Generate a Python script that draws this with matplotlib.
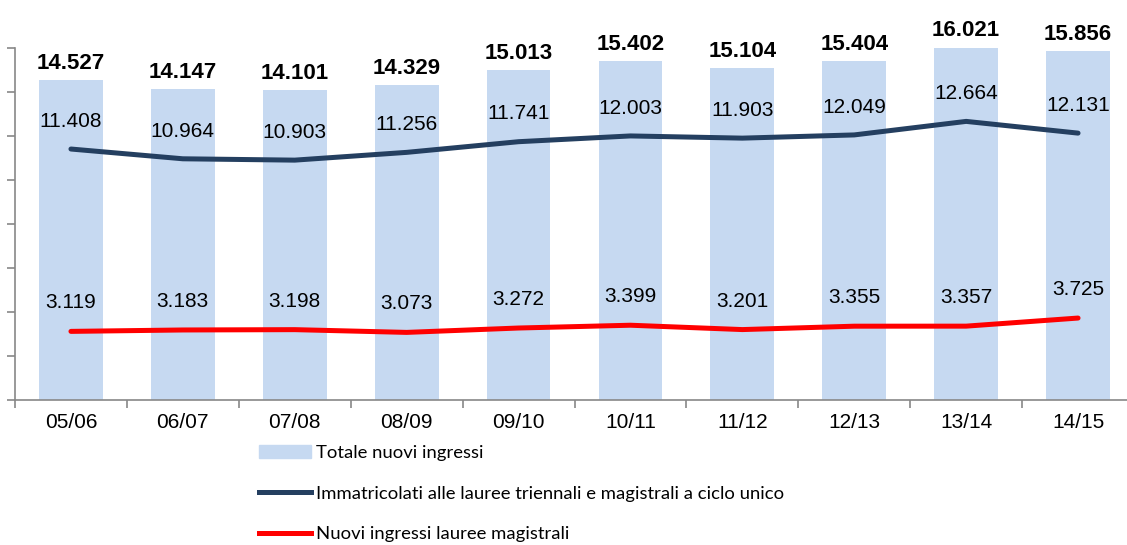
import matplotlib.pyplot as plt
import matplotlib.patches as mpatches
import matplotlib.lines as mlines
from matplotlib import font_manager
import numpy as np

years = ['05/06', '06/07', '07/08', '08/09', '09/10', '10/11', '11/12', '12/13', '13/14', '14/15']
totale = [14527, 14147, 14101, 14329, 15013, 15402, 15104, 15404, 16021, 15856]
immatricolati = [11408, 10964, 10903, 11256, 11741, 12003, 11903, 12049, 12664, 12131]
magistrali = [3119, 3183, 3198, 3073, 3272, 3399, 3201, 3355, 3357, 3725]

bar_col = '#C6D9F1'
dark_col = '#243F60'
red_col = '#FF0000'

names = set(f.name for f in font_manager.fontManager.ttflist)
main_font = 'Liberation Sans' if 'Liberation Sans' in names else 'DejaVu Sans'
legend_font = 'Lato' if 'Lato' in names else main_font
plt.rcParams['font.family'] = [main_font, 'DejaVu Sans']


def fmt(v):
    return '{:,}'.format(v).replace(',', '.')


fig = plt.figure(figsize=(11.27, 5.45), dpi=100)
ax = fig.add_axes([15 / 1127, 145 / 545, 1119 / 1127, 352 / 545])

x = np.arange(len(years))
ax.bar(x, totale, width=0.57, color=bar_col, clip_on=False, zorder=1)
ax.plot(x, immatricolati, color=dark_col, lw=3.6, solid_capstyle='round', zorder=3)
ax.plot(x, magistrali, color=red_col, lw=3.6, solid_capstyle='round', zorder=3)

for i in range(len(years)):
    ax.annotate(fmt(totale[i]), (x[i], totale[i]), xytext=(0, 12), textcoords='offset points',
                ha='center', va='center', fontsize=16, fontweight='bold', annotation_clip=False)
    ax.annotate(fmt(immatricolati[i]), (x[i], immatricolati[i]), xytext=(0, 20), textcoords='offset points',
                ha='center', va='center', fontsize=15)
    ax.annotate(fmt(magistrali[i]), (x[i], magistrali[i]), xytext=(0, 20.5), textcoords='offset points',
                ha='center', va='center', fontsize=15)

ax.set_xlim(-0.5, len(years) - 0.5)
ax.set_ylim(0, 16000)
ax.set_yticks(np.arange(0, 16001, 2000))
ax.set_yticklabels([])
ax.set_xticks(np.arange(-0.5, len(years), 1.0))
ax.set_xticklabels([])
ax.set_xticks(x, minor=True)
ax.set_xticklabels(years, minor=True, fontsize=15)
ax.tick_params(axis='x', which='minor', length=0, pad=9)
ax.tick_params(axis='both', which='major', length=6, color='#888888', width=1.2)
for s in ['top', 'right']:
    ax.spines[s].set_visible(False)
for s in ['left', 'bottom']:
    ax.spines[s].set_color('#888888')
    ax.spines[s].set_linewidth(1.2)

h1 = mpatches.Patch(color=bar_col, label='Totale nuovi ingressi')
h2 = mlines.Line2D([], [], color=dark_col, lw=3.6, label='Immatricolati alle lauree triennali e magistrali a ciclo unico')
h3 = mlines.Line2D([], [], color=red_col, lw=3.6, label='Nuovi ingressi lauree magistrali')
fig.legend(handles=[h1, h2, h3], loc='upper left', bbox_to_anchor=(259 / 1127, 1 - 445 / 545),
           frameon=False, prop={'family': legend_font, 'size': 13.3}, handlelength=2.8,
           handletextpad=0.27, labelspacing=1.33, borderaxespad=0, borderpad=0)

plt.savefig('out.png', dpi=100)
